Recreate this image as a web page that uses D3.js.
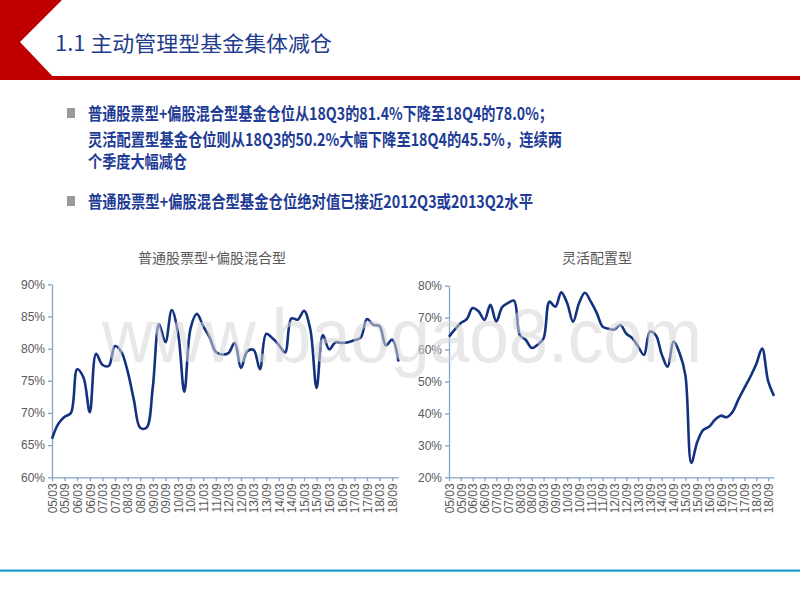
<!DOCTYPE html>
<html><head><meta charset="utf-8">
<script src="https://cdn.jsdelivr.net/npm/d3@7"></script>
<style>body{margin:0;background:#fff;overflow:hidden} svg{display:block}</style>
</head><body>
<svg id="c" width="800" height="600"></svg>
<script>
// ---------- data ----------
const quarters = [
 "05Q1","05Q2","05Q3","05Q4","06Q1","06Q2","06Q3","06Q4","07Q1","07Q2","07Q3","07Q4",
 "08Q1","08Q2","08Q3","08Q4","09Q1","09Q2","09Q3","09Q4","10Q1","10Q2","10Q3","10Q4",
 "11Q1","11Q2","11Q3","11Q4","12Q1","12Q2","12Q3","12Q4","13Q1","13Q2","13Q3","13Q4",
 "14Q1","14Q2","14Q3","14Q4","15Q1","15Q2","15Q3","15Q4","16Q1","16Q2","16Q3","16Q4",
 "17Q1","17Q2","17Q3","17Q4","18Q1","18Q2","18Q3","18Q4"];
const tickLabels = ["05/03","05/09","06/03","06/09","07/03","07/09","08/03","08/09","09/03","09/09",
 "10/03","10/09","11/03","11/09","12/03","12/09","13/03","13/09","14/03","14/09",
 "15/03","15/09","16/03","16/09","17/03","17/09","18/03","18/09"];
// 普通股票型+偏股混合型 (%)
const stockFund = [
 66.0,68.3,69.4,70.0, 76.8,75.5,70.1,79.2, 77.5,77.3,80.4,79.5,
 76.5,72.0,67.7,67.7, 74.0,83.8,81.0,86.0, 82.5,73.3,83.2,85.4,
 83.5,81.8,79.5,79.1, 79.3,80.9,77.0,79.6, 79.8,76.8,82.3,81.6,
 80.6,79.4,84.7,84.5, 85.9,83.0,73.9,82.1, 79.9,81.0,80.9,81.0,
 81.3,81.7,84.6,83.7, 83.5,80.5,81.4,78.0];
// 灵活配置型 (%)
const flexFund = [
 64.0,66.3,68.3,69.5, 73.0,72.0,69.3,74.0, 68.8,73.3,74.6,75.3,
 64.5,63.0,60.5,61.5, 63.5,75.0,73.4,77.9, 74.5,68.7,74.5,77.8,
 75.0,71.5,67.2,66.5, 66.3,67.7,65.0,63.6, 61.0,58.3,65.6,64.5,
 58.5,54.6,62.5,59.0, 52.0,24.5,31.0,34.8, 35.8,38.0,39.3,38.8,
 40.5,44.5,48.0,51.5, 55.5,60.3,50.2,45.5];
const leftTicks = [60,65,70,75,80,85,90];
const rightTicks = [20,30,40,50,60,70,80];
const chartTitles = ["普通股票型+偏股混合型","灵活配置型"];
const pageTitle = "1.1 主动管理型基金集体减仓";
const bullet1 = ["普通股票型+偏股混合型基金仓位从18Q3的81.4%下降至18Q4的78.0%；",
                 "灵活配置型基金仓位则从18Q3的50.2%大幅下降至18Q4的45.5%，连续两",
                 "个季度大幅减仓"];
const bullet2 = "普通股票型+偏股混合型基金仓位绝对值已接近2012Q3或2013Q2水平";

// ---------- drawing ----------
const svg = d3.select("#c");
const RED = "#C00000", NAVY = "#1E3C96", LINE = "#12317f", AX = "#85a5c6", LAB = "#595959";

// header decoration
svg.append("path").attr("d","M0,0 L62,0 L20,42 L56,80 L0,80 Z").attr("fill",RED);
svg.append("rect").attr("x",50).attr("y",76).attr("width",750).attr("height",4).attr("fill",RED);
svg.append("text").text(pageTitle).attr("x",55).attr("y",51)
  .attr("font-family","'Noto Sans CJK SC','Noto Sans',sans-serif").attr("font-size",21)
  .attr("fill","#1F3C8C").attr("textLength",277).attr("lengthAdjust","spacingAndGlyphs");

// bullets
const bf = "'Noto Sans CJK SC','Noto Sans',sans-serif";
function bulletSq(cy){ svg.append("rect").attr("x",67).attr("y",cy-5).attr("width",8).attr("height",10).attr("fill","#9a9a9a"); }
bulletSq(113); bulletSq(201);
const b1y = [120,146,168], b1w = [465,474,99];
bullet1.forEach((t,i)=>{
  svg.append("text").text(t).attr("x",88).attr("y",b1y[i]).attr("font-family",bf)
    .attr("font-weight",700).attr("font-size",17).attr("fill",NAVY)
    .attr("textLength",b1w[i]).attr("lengthAdjust","spacingAndGlyphs");
});
svg.append("text").text(bullet2).attr("x",88).attr("y",208).attr("font-family",bf)
  .attr("font-weight",700).attr("font-size",17).attr("fill",NAVY)
  .attr("textLength",445).attr("lengthAdjust","spacingAndGlyphs");

// charts
function drawChart(opt){
  const g = svg.append("g");
  const x = d3.scalePoint().domain(quarters).range([opt.x0, opt.x1]);
  const y = d3.scaleLinear().domain([opt.ticks[0], opt.ticks[opt.ticks.length-1]]).range([477.3, opt.yTop]);
  // title
  g.append("text").text(opt.title).attr("x",opt.tx).attr("y",263).attr("text-anchor","middle")
    .attr("font-family",bf).attr("font-size",14).attr("fill",LAB);
  // y axis
  const ya = g.append("g").attr("transform",`translate(${opt.x0},0)`)
    .call(d3.axisLeft(y).tickValues(opt.ticks).tickFormat(d=>d+"%").tickSize(4).tickSizeOuter(0));
  // x axis
  const xa = g.append("g").attr("transform","translate(0,477.3)")
    .call(d3.axisBottom(x).tickValues(quarters.filter((q,i)=>i%2===0))
      .tickFormat((q,i)=>tickLabels[i]).tickSize(4).tickSizeOuter(0));
  xa.selectAll("text").attr("x",-6).attr("y",0).attr("dy","0.35em")
    .attr("transform","rotate(-90)").style("text-anchor","end");
  [ya,xa].forEach(a=>{
    a.selectAll("path,line").attr("stroke",AX).attr("stroke-width",1.3);
    a.selectAll("text").attr("fill",LAB).attr("font-size",12)
      .attr("font-family","'Liberation Sans',Arial,sans-serif");
  });
  // line
  const line = d3.line().x((d,i)=>x(quarters[i])).y(d=>y(d)).curve(d3.curveCatmullRom.alpha(0.5));
  g.append("path").datum(opt.data).attr("d",line).attr("fill","none")
    .attr("stroke",LINE).attr("stroke-width",2.6).attr("stroke-linejoin","round");
}
drawChart({data:stockFund, ticks:leftTicks, x0:52, x1:398.5, yTop:284.3, title:chartTitles[0], tx:212});
drawChart({data:flexFund, ticks:rightTicks, x0:449, x1:774, yTop:285.7, title:chartTitles[1], tx:597});

// watermark
svg.append("text").text("www.baogao8.com").attr("x",102).attr("y",362)
  .attr("font-family","'Liberation Sans',Arial,sans-serif").attr("font-size",76)
  .attr("fill","#d6d6d6").attr("fill-opacity",0.55)
  .attr("textLength",600).attr("lengthAdjust","spacingAndGlyphs");

// bottom rule
svg.append("rect").attr("x",0).attr("y",569.5).attr("width",800).attr("height",2.2).attr("fill","#1c9bcc");
</script>
</body></html>
